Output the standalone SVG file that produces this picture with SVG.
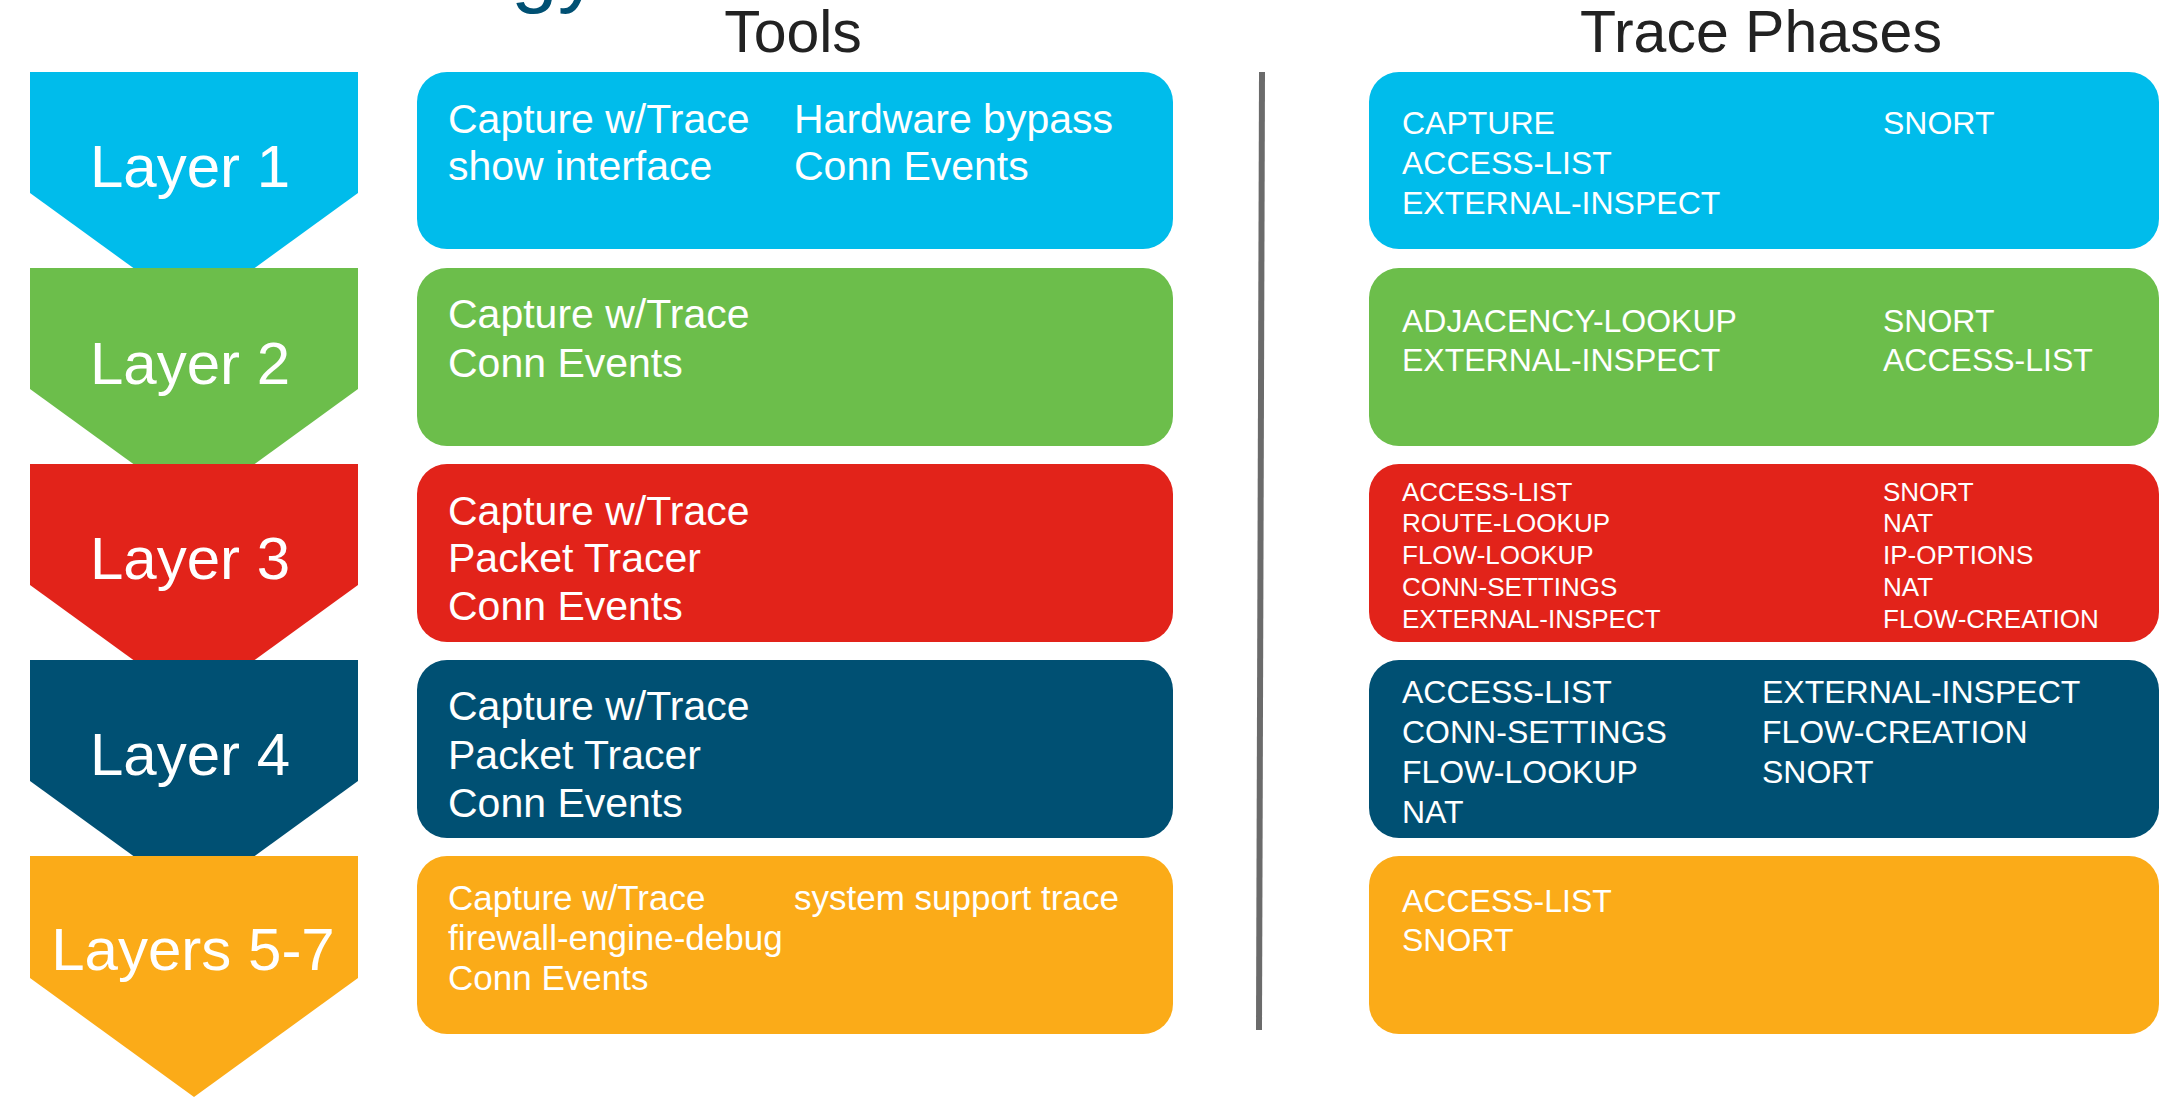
<svg xmlns="http://www.w3.org/2000/svg" width="2176" height="1098" viewBox="0 0 2176 1098">
<style>
text{font-family:"Liberation Sans",Arial,sans-serif;fill:#fff}
.hdr{font-size:59px;fill:#222;text-anchor:middle}
.lay{font-size:60px;text-anchor:middle}
.tool{font-size:41px}
.tool5{font-size:35px}
.ph{font-size:32px}
.ph3{font-size:26px}
.c1{fill:#00bceb}.c2{fill:#6cbe4b}.c3{fill:#e2231a}.c4{fill:#005073}.c5{fill:#fbab18}
</style>
<rect width="2176" height="1098" fill="#fff"/>
<text x="511" y="-3" style="font-size:84px;fill:#005073">gy</text>
<text class="hdr" x="793" y="52">Tools</text>
<text class="hdr" x="1761" y="52">Trace Phases</text>
<g id="connectors">
<line x1="1262" y1="72" x2="1259" y2="1030" stroke="#6b6b6b" stroke-width="6"/>
</g>
<g id="layer1"><polygon class="c1" points="30,72 358,72 358,193 194,312 30,193"/><text class="lay" x="190" y="187">Layer 1</text></g>
<g id="layer2"><polygon class="c2" points="30,268 358,268 358,389 194,508 30,389"/><text class="lay" x="190" y="384">Layer 2</text></g>
<g id="layer3"><polygon class="c3" points="30,464 358,464 358,585 194,704 30,585"/><text class="lay" x="190" y="579">Layer 3</text></g>
<g id="layer4"><polygon class="c4" points="30,660 358,660 358,781 194,900 30,781"/><text class="lay" x="190" y="775">Layer 4</text></g>
<g id="layer57"><polygon class="c5" points="30,856 358,856 358,978 194,1097 30,978"/><text class="lay" x="193" y="970">Layers 5-7</text></g>

<g id="tools1"><rect class="c1" x="417" y="72" width="756" height="177" rx="30"/>
<text class="tool" x="448" y="133">Capture w/Trace</text><text class="tool" x="448" y="180">show interface</text>
<text class="tool" x="794" y="133">Hardware bypass</text><text class="tool" x="794" y="180">Conn Events</text></g>
<g id="tools2"><rect class="c2" x="417" y="268" width="756" height="178" rx="30"/>
<text class="tool" x="448" y="328">Capture w/Trace</text><text class="tool" x="448" y="377">Conn Events</text></g>
<g id="tools3"><rect class="c3" x="417" y="464" width="756" height="178" rx="30"/>
<text class="tool" x="448" y="525">Capture w/Trace</text><text class="tool" x="448" y="572">Packet Tracer</text><text class="tool" x="448" y="620">Conn Events</text></g>
<g id="tools4"><rect class="c4" x="417" y="660" width="756" height="178" rx="30"/>
<text class="tool" x="448" y="720">Capture w/Trace</text><text class="tool" x="448" y="769">Packet Tracer</text><text class="tool" x="448" y="817">Conn Events</text></g>
<g id="tools57"><rect class="c5" x="417" y="856" width="756" height="178" rx="30"/>
<text class="tool5" x="448" y="910">Capture w/Trace</text><text class="tool5" x="448" y="950">firewall-engine-debug</text><text class="tool5" x="448" y="990">Conn Events</text>
<text class="tool5" x="794" y="910">system support trace</text></g>

<g id="phases1"><rect class="c1" x="1369" y="72" width="790" height="177" rx="30"/>
<text class="ph" x="1402" y="134">CAPTURE</text><text class="ph" x="1402" y="174">ACCESS-LIST</text><text class="ph" x="1402" y="214">EXTERNAL-INSPECT</text>
<text class="ph" x="1883" y="134">SNORT</text></g>
<g id="phases2"><rect class="c2" x="1369" y="268" width="790" height="178" rx="30"/>
<text class="ph" x="1402" y="332">ADJACENCY-LOOKUP</text><text class="ph" x="1402" y="371">EXTERNAL-INSPECT</text>
<text class="ph" x="1883" y="332">SNORT</text><text class="ph" x="1883" y="371">ACCESS-LIST</text></g>
<g id="phases3"><rect class="c3" x="1369" y="464" width="790" height="178" rx="30"/>
<text class="ph3" x="1402" y="501">ACCESS-LIST</text><text class="ph3" x="1402" y="532">ROUTE-LOOKUP</text><text class="ph3" x="1402" y="564">FLOW-LOOKUP</text><text class="ph3" x="1402" y="596">CONN-SETTINGS</text><text class="ph3" x="1402" y="628">EXTERNAL-INSPECT</text>
<text class="ph3" x="1883" y="501">SNORT</text><text class="ph3" x="1883" y="532">NAT</text><text class="ph3" x="1883" y="564">IP-OPTIONS</text><text class="ph3" x="1883" y="596">NAT</text><text class="ph3" x="1883" y="628">FLOW-CREATION</text></g>
<g id="phases4"><rect class="c4" x="1369" y="660" width="790" height="178" rx="30"/>
<text class="ph" x="1402" y="703">ACCESS-LIST</text><text class="ph" x="1402" y="743">CONN-SETTINGS</text><text class="ph" x="1402" y="783">FLOW-LOOKUP</text><text class="ph" x="1402" y="823">NAT</text>
<text class="ph" x="1762" y="703">EXTERNAL-INSPECT</text><text class="ph" x="1762" y="743">FLOW-CREATION</text><text class="ph" x="1762" y="783">SNORT</text></g>
<g id="phases57"><rect class="c5" x="1369" y="856" width="790" height="178" rx="30"/>
<text class="ph" x="1402" y="912">ACCESS-LIST</text><text class="ph" x="1402" y="951">SNORT</text></g>
</svg>
